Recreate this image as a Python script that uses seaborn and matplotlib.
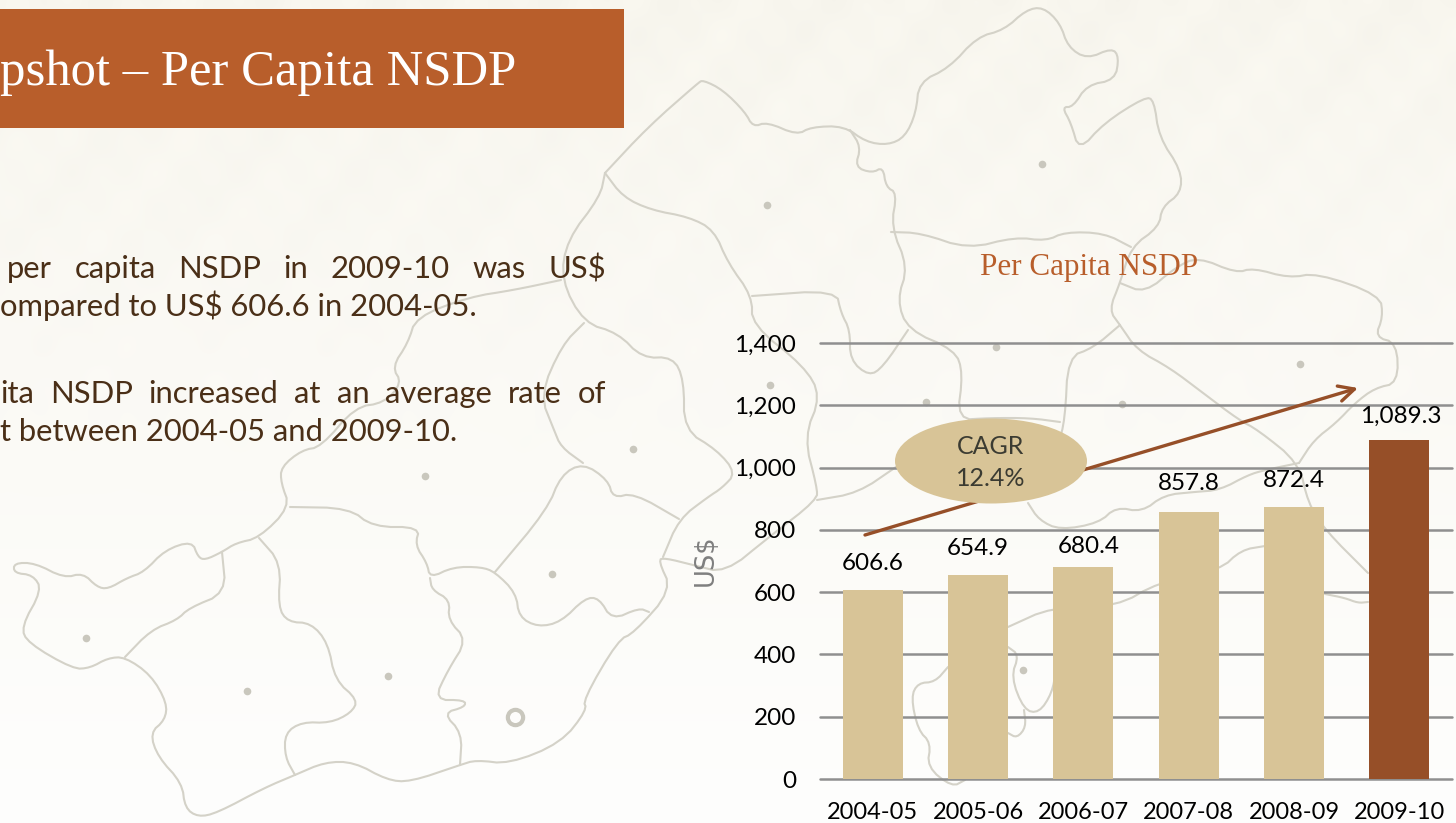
import numpy as np
import pandas as pd
import matplotlib
matplotlib.use("Agg")
import matplotlib.pyplot as plt
import seaborn as sns
from matplotlib.patches import Ellipse, Rectangle

# Chart values
years = ["2004-05", "2005-06", "2006-07", "2007-08", "2008-09", "2009-10"]
nsdp = [606.6, 654.9, 680.4, 857.8, 872.4, 1089.3]
bar_colors = ["#D8C497", "#D8C497", "#D8C497", "#D8C497", "#D8C497", "#964F28"]
y_ticks = [0, 200, 400, 600, 800, 1000, 1200, 1400]
label_dx = [0, 0, 5, 0, 0, 1]
label_gap = [27, 27, 21, 28, 27, 23]

# Background map, traced in picture pixels
map_lines = [
    # north outline
    [(605,173),(648,127),(698,83),(703,80),(723,90),(745,112),(753,127),(767,122),(797,135),(811,127),(844,126),(866,142),(888,145),(905,137),(916,113),(919,82),(949,68),(977,37),(1004,30),(1026,10),(1043,7),(1060,23),(1068,47),(1087,59),(1112,48),(1119,57),(1115,80),(1087,85),(1073,107),(1062,107),(1071,123),(1079,151),(1104,123),(1145,97),(1154,100),(1159,137),(1181,170),(1181,193),(1162,207),(1159,227),(1131,247),(1120,283),(1109,310),(1120,325),(1137,350),(1170,368),(1203,393),(1239,420),(1258,430),(1299,463),(1308,503),(1325,530),(1368,573)],
    [(850,130),(861,147),(855,167),(872,173),(883,167),(886,187),(897,193),(891,227),(908,267),(897,300),(908,330),(955,350),(963,373),(957,420),(990,418),(1030,418),(1060,422)],
    [(891,232),(921,233),(968,249),(1015,237),(1046,241),(1065,232),(1104,233),(1131,247)],
    # north east
    [(1120,283),(1145,293),(1176,267),(1198,257),(1236,273),(1253,268),(1289,278),(1317,273),(1380,295),(1383,317),(1375,337),(1397,343),(1398,383),(1375,388),(1355,403),(1336,423),(1314,440),(1299,463)],
    [(1120,325),(1093,348),(1068,357),(1065,420),(1058,445)],
    # centre
    [(605,173),(623,197),(651,210),(689,217),(714,230),(728,263),(752,296),(752,325),(804,366),(821,396),(804,437),(817,487),(817,500),(769,537),(725,573),(693,565),(665,558),(658,560),(672,590),(634,633),(618,640),(583,700),(587,710),(561,743),(509,764),(476,760),(460,765),(410,782),(387,780),(354,762),(325,762),(295,775),(264,788),(217,813),(198,817),(185,808),(182,783),(158,757),(150,733),(165,720),(167,703),(151,675),(125,657),(108,658),(90,668),(73,669),(28,643),(21,627),(42,590),(33,575),(14,573),(14,563),(35,563),(64,578),(83,573),(97,587),(108,589),(127,578),(144,572),(165,550),(192,541),(198,557),(205,560),(222,552),(236,543),(259,538),(290,507),(281,483),(281,467),(302,450),(321,447),(355,407),(384,403),(402,383),(392,367),(408,343),(416,317),(469,297),(514,290),(561,280)],
    [(752,296),(836,290),(841,313),(850,330),(850,360),(869,376),(883,367),(908,330)],
    [(605,173),(600,197),(567,240),(561,280),(584,323),(618,333),(642,358),(673,357),(684,380),(684,430),(717,450),(736,473),(722,488),(708,497),(679,519),(663,557)],
    [(817,500),(858,493),(896,467)],
    [(1028,503),(1039,520),(1060,530),(1099,523),(1116,507),(1142,512),(1164,495),(1194,492),(1220,490),(1248,475),(1265,470),(1299,463)],
    [(1325,594),(1345,598),(1358,603),(1368,602)],
    # south
    [(1008,627),(1052,607),(1116,607),(1159,582),(1220,570),(1241,550),(1265,546)],
    [(1008,647),(1019,655),(1011,677),(1024,710),(1039,713),(1052,693),(1056,670)],
    [(1024,710),(1026,727),(1017,738),(1008,733)],
    [(948,667),(935,682),(918,683),(911,697),(918,730),(931,743),(927,767),(952,787),(965,780)],
    [(125,657),(151,630),(177,620),(189,608),(226,593),(222,552)],
    [(259,538),(281,563),(278,607),(288,622),(311,623),(328,643),(335,680),(358,700),(351,713),(330,723),(302,722),(285,733),(285,757),(295,775)],
    [(290,507),(349,508),(373,527),(420,527),(415,545),(427,563),(430,578),(453,567),(481,567),(495,572),(516,593),(519,617),(538,627),(561,622),(585,598),(599,598),(612,620),(639,608),(649,612)],
    [(430,578),(432,590),(450,600),(448,620),(467,640),(448,670),(434,700),(465,700),(465,707),(443,713),(462,733),(460,765)],
    [(495,572),(547,510),(561,475),(583,463),(608,480),(613,498),(634,493),(679,519)],
    [(583,463),(561,447),(554,430),(540,395),(562,345),(584,323)],
]
map_dots = [(767,205),(1042,164),(996,347),(926,402),(1122,404),(1300,364),(770,385),(633,449),(425,476),(552,574),(86,638),(247,691),(388,676),(1023,670)]


def smooth(points, rounds=2):
    pts = np.array(points, dtype=float)
    for i in range(rounds):
        left = 0.75 * pts[:-1] + 0.25 * pts[1:]
        right = 0.25 * pts[:-1] + 0.75 * pts[1:]
        mid = np.empty((len(left) * 2, 2))
        mid[0::2] = left
        mid[1::2] = right
        pts = np.vstack([pts[0], mid, pts[-1]])
    return pts


def justified(ax, words, x0, x1, y, **kw):
    # spread the words over the line like justified slide text
    items = [ax.text(x0, y, w, ha="left", va="center", **kw) for w in words]
    fig.canvas.draw()
    r = fig.canvas.get_renderer()
    widths = [t.get_window_extent(r).width for t in items]
    gap = (x1 - x0 - sum(widths)) / (len(words) - 1)
    x = x0
    for t, w in zip(items, widths):
        t.set_x(x)
        x += w + gap


sns.set_theme(style="white")
plt.rcParams['font.family'] = ['Lato', 'DejaVu Sans']

W, H = 1456, 823
fig = plt.figure(figsize=(W / 100, H / 100), dpi=100)

# Page layer, with a faint wallpaper weave that fades out going down
bg = fig.add_axes([0, 0, 1, 1], zorder=0)
bg.set_xlim(0, W)
bg.set_ylim(H, 0)
bg.axis("off")
yy, xx = np.mgrid[0:H, 0:W]
shade = (yy / H)[..., None]
top = np.array([0xF8, 0xF6, 0xEE]) / 255
bottom = np.array([0xFE, 0xFE, 0xFD]) / 255
weave = (np.sin(xx / 9) * np.cos(yy / 11) + np.sin((xx + yy) / 23))[..., None]
page = top + (bottom - top) * shade + weave * 0.004 * np.clip(1 - shade * 1.6, 0, 1)
bg.imshow(np.clip(page, 0, 1), extent=[0, W, H, 0], aspect="auto")

for line in map_lines:
    pts = smooth(line)
    bg.plot(pts[:, 0], pts[:, 1], color="#D4D2C8", lw=1.5, solid_capstyle="round")
for x, y in map_dots:
    bg.plot(x, y, "o", color="#C9C7BD", ms=5.5, mew=0)
bg.plot(515, 717, "o", mfc="none", mec="#C9C7BD", ms=11, mew=3)

bg.add_patch(Rectangle((0, 9), 624, 119, color="#B85E2B", lw=0))
bg.text(516, 73, "pshot – Per Capita NSDP", color="white", ha="right", va="center",
        fontsize=36.5, family="Liberation Serif")

body = dict(color="#4A2F17", fontsize=22.3, family="Lato")
justified(bg, "per capita NSDP in 2009-10 was US$".split(), 7, 606, 269, **body)
bg.text(0, 306, "ompared to US$ 606.6 in 2004-05.", ha="left", va="center", **body)
justified(bg, "ita NSDP increased at an average rate of".split(), 0, 606, 394, **body)
bg.text(0, 432, "t between 2004-05 and 2009-10.", ha="left", va="center", **body)

# Bar chart
ax = fig.add_axes([820 / W, 1 - 779 / H, 632 / W, 436 / H], zorder=1)
ax.patch.set_alpha(0)
df = pd.DataFrame({"Year": years, "NSDP": nsdp})
sns.barplot(data=df, x="Year", y="NSDP", hue="Year", palette=bar_colors,
            width=0.57, saturation=1, legend=False, linewidth=0, ax=ax, zorder=3)
ax.set_xlim(-0.5, 5.5)
ax.set_ylim(0, 1400)
ax.set_yticks(y_ticks)
ax.set_yticklabels([f"{v:,}" for v in y_ticks])
ax.grid(axis="y", color="#8F8F8F", lw=1.8, clip_on=False)
ax.set_axisbelow(True)
for side in ["top", "right", "left", "bottom"]:
    ax.spines[side].set_visible(False)
ax.tick_params(axis="y", length=0, pad=17, labelsize=17.5, labelcolor="black")
ax.tick_params(axis="x", length=0, pad=16.5, labelsize=17, labelcolor="black")
ax.set_xlabel("")
ax.set_ylabel("")

for i, v in enumerate(nsdp):
    ax.annotate(f"{v:,.1f}", (i, v), xytext=(label_dx[i] * 0.72, label_gap[i] * 0.72),
                textcoords="offset points", ha="center", va="center",
                fontsize=17.5, color="black")

# Title, axis name, trend arrow and CAGR bubble
over = fig.add_axes([0, 0, 1, 1], zorder=2)
over.set_xlim(0, W)
over.set_ylim(H, 0)
over.axis("off")
over.text(1089, 268, "Per Capita NSDP", color="#B85E2B", ha="center", va="center",
          fontsize=22.4, family="Liberation Serif")
over.text(706, 560, "US$", color="#7F7F7F", rotation=90, ha="center", va="center",
          fontsize=18.5, family="DejaVu Sans")
over.annotate("", xy=(1358, 388), xytext=(865, 535),
              arrowprops=dict(arrowstyle="->", color="#964F28", lw=2.4, mutation_scale=28,
                              shrinkA=0, shrinkB=0))
over.add_patch(Ellipse((991, 461), 192, 85, color="#D8C497", lw=0, zorder=4))
over.text(991, 446, "CAGR", color="#3B3B32", ha="center", va="center", fontsize=18, zorder=5)
over.text(991, 478, "12.4%", color="#3B3B32", ha="center", va="center", fontsize=18, zorder=5)

fig.savefig("out.png", dpi=100)
